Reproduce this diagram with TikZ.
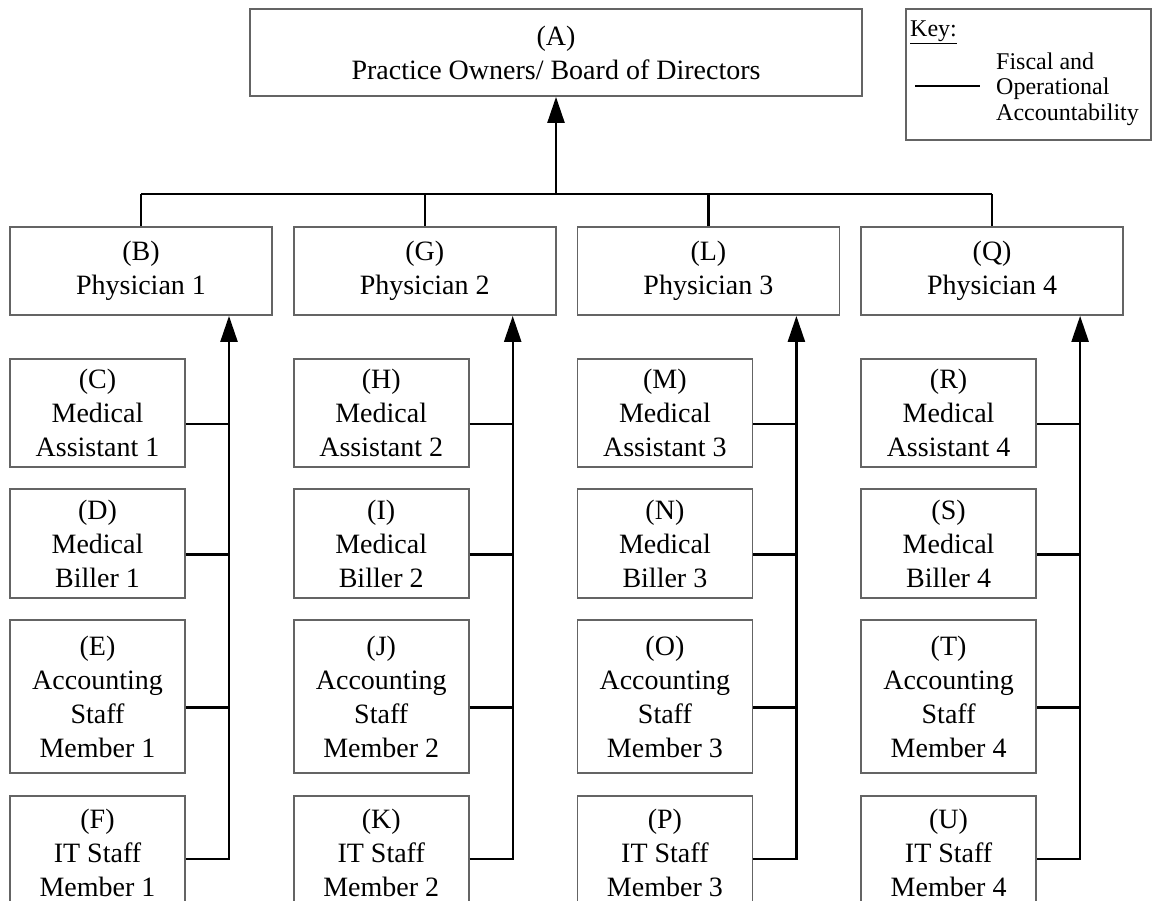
\documentclass[tikz,border=0pt]{standalone}
\usepackage{fontspec}
\setmainfont{Liberation Serif}
\usetikzlibrary{arrows.meta}
\definecolor{boxgray}{HTML}{646464}
\newcommand\chartfont{\fontsize{28}{34}\selectfont}
\newcommand\keyfont{\fontsize{24}{25.5}\selectfont}
\begin{document}
\begin{tikzpicture}[x=1pt,y=-1pt,
  box/.style={draw=boxgray, line width=1.8pt, rectangle, inner sep=0pt,
              align=center, font=\chartfont},
  staffbox/.style={box, minimum width=175pt, minimum height=108pt},
  physbox/.style={box, minimum width=262pt, minimum height=88pt},
  link/.style={line width=2.4pt, black},
  up/.style={link, -{Triangle[length=26pt,width=17pt]}}]
\useasboundingbox (0,0) rectangle (1154,901);
\clip (0,0) rectangle (1154,901);

% top of the chart
\node[box, minimum width=612pt, minimum height=87pt] (A) at (556,52.5)
  {(A)\\Practice Owners/ Board of Directors};
\coordinate (hub) at (556,194);

% key
\node[draw=boxgray, line width=1.8pt, minimum width=245pt, minimum height=131pt,
      inner sep=0pt] (key) at (1028.5,74.5) {};
\node[anchor=west, font=\keyfont, inner sep=0pt] (keytitle) at (910,32) {\underline{Key:}};
\coordinate (keyl) at (915,86);
\coordinate (keyr) at (980,86);
\draw[link] (keyl) -- (keyr);
\node[anchor=west, align=left, font=\keyfont, inner sep=0pt] (keytext) at (996,89)
  {Fiscal and\\Operational\\Accountability};

% one column per physician with the staff reporting to them
\foreach \i/\p/\c/\d/\e/\f/\n in {0/B/C/D/E/F/1, 1/G/H/I/J/K/2, 2/L/M/N/O/P/3, 3/Q/R/S/T/U/4}{
  \pgfmathsetmacro\xo{10+283.7*\i}
  \node[physbox] (\p) at (\xo+131,271) {(\p)\\Physician \n};
  \node[staffbox] (\c) at (\xo+87.5,413) {(\c)\\Medical\\Assistant \n};
  \node[staffbox, minimum height=109pt] (\d) at (\xo+87.5,543.5) {(\d)\\Medical\\Biller \n};
  \node[staffbox, minimum height=153pt] (\e) at (\xo+87.5,696.5) {(\e)\\Accounting\\Staff\\Member \n};
  \node[staffbox, minimum height=114pt] (\f) at (\xo+87.5,853) {(\f)\\IT Staff\\Member \n};
  \coordinate (bus\n) at (\xo+219,0);
  \draw[up] ([yshift=-6pt]\f.east) -- ([yshift=-6pt]\f.east -| bus\n) -- (bus\n |- \p.south);
  \foreach \s in {\c,\d,\e}
    \draw[link] ([yshift=-11pt]\s.east) -- ([yshift=-11pt]\s.east -| bus\n);
  \draw[link] (\p.north) -- (\p.north |- hub);
}

\draw[link] (B.north |- hub) -- (Q.north |- hub);
\draw[up] (hub) -- (A.south);
\end{tikzpicture}
\end{document}
